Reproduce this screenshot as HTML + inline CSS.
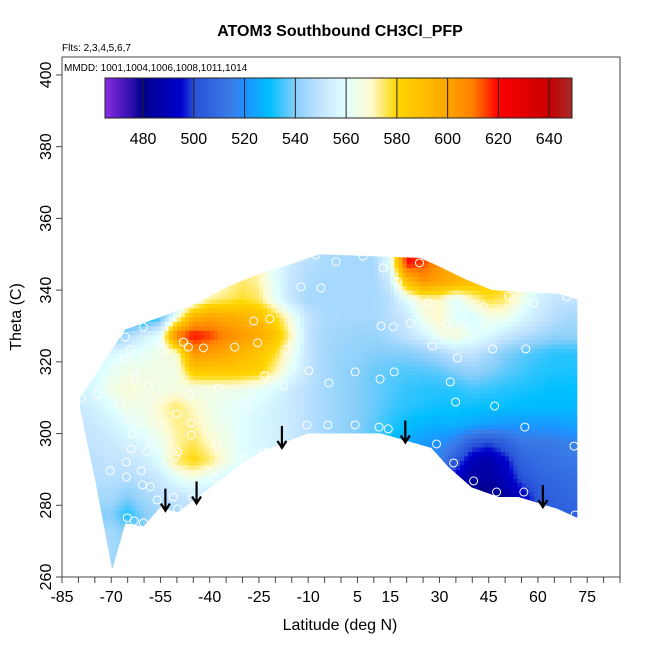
<!DOCTYPE html>
<html><head><meta charset="utf-8"><style>
body{margin:0;background:#fff;}
svg{display:block;font-family:"Liberation Sans",Arial,sans-serif;}
</style></head><body>
<svg id="chart" width="650" height="650" viewBox="0 0 650 650"></svg>
<script>
const lats=[-80,-75,-70,-65,-60,-55,-50,-45,-40,-35,-30,-25,-20,-15,-10,-5,0,5,10,15,20,25,30,35,40,45,50,55,60,65,70];
const thetas=[345,340,335,330,325,320,315,310,305,300,295,290,285,280,275,270,265];
const values=[
[550,550,550,550,550,550,550,550,560,565,570,570,560,552,548,546,545,545,545,560,620,615,605,595,585,580,575,570,565,560,555],
[550,550,550,550,550,550,550,560,565,570,575,572,560,550,546,545,545,545,545,552,590,605,600,595,590,585,580,570,560,555,552],
[535,535,535,530,530,535,548,560,572,575,578,575,562,550,545,545,545,545,545,548,560,570,570,560,570,578,575,565,555,550,550],
[530,530,530,525,525,535,565,595,600,598,595,590,580,565,550,546,545,545,545,548,552,565,570,560,558,565,565,558,552,548,545],
[540,540,535,545,555,560,612,620,616,608,603,598,588,570,550,545,544,543,543,545,550,555,565,568,562,558,552,548,545,542,542],
[552,555,558,560,562,565,568,605,602,598,593,588,578,565,550,545,543,542,540,540,540,542,545,550,550,545,540,537,535,533,533],
[555,558,562,565,565,565,565,585,586,586,585,582,572,560,550,545,542,540,538,537,536,536,537,540,542,540,537,535,533,532,532],
[555,558,565,568,566,565,566,565,565,565,564,562,558,552,548,545,542,540,538,536,534,533,533,533,535,534,533,532,531,530,530],
[552,555,560,565,565,570,575,570,565,562,560,558,555,552,548,545,542,540,538,535,533,532,531,531,531,530,530,529,529,529,529],
[550,552,555,560,563,568,573,573,566,563,560,557,555,552,548,545,542,540,537,533,530,528,527,527,525,523,522,522,522,522,524],
[548,550,552,555,558,563,572,576,570,565,560,557,555,552,548,545,542,540,535,530,525,522,520,514,503,500,505,512,513,514,516],
[548,548,550,550,553,560,575,580,575,566,560,557,555,552,548,545,542,538,533,528,522,518,515,503,490,487,494,506,509,511,513],
[548,548,548,547,548,552,560,565,560,556,555,552,550,548,545,542,540,535,530,525,520,515,510,492,485,485,490,501,506,508,510],
[545,545,545,540,545,548,550,552,552,552,552,550,548,545,542,540,538,533,528,522,518,512,505,485,475,478,484,492,502,506,508],
[540,540,540,532,540,545,545,548,550,550,550,548,545,542,540,538,535,530,525,520,515,508,500,482,470,475,480,490,500,505,505],
[545,545,545,540,540,545,545,548,550,550,550,548,545,542,540,538,535,530,525,520,515,508,500,485,475,478,485,495,500,505,505],
[545,545,545,540,540,545,545,548,550,550,550,548,545,542,540,538,535,530,525,520,515,508,500,485,480,480,485,495,500,505,505]];
const topLat=[-79.5,-65.7,-55,-45,-34.5,-24.5,-16,-6.5,7.6,24,29,38,46,66,72];
const topTh=[310,329,332.5,336,341,344.7,347,350,349.5,349,347,343,340,339,337.5];
const botLat=[72,66,54.1,48,39.8,32.7,27.5,12.2,-10.1,-24.4,-29.6,-39.7,-49.8,-55,-60.2,-65.7,-69.7,-74.9,-79.5];
const botTh=[276.5,279,282.3,282.3,285,290.7,296,300,300,295,292,285,278,279.5,274,275,262,287,307];
const ptLat=[-7.6,-1.5,-12.2,-6.1,-26.6,-21.7,-60.2,-65.7,-48,-55,-46.5,-41.9,-32.4,-25.4,-16.8,-64.2,-54.4,-66,-9.8,-23.2,-62.7,-62.7,-3.7,-58.7,-17.4,-74.3,-37.3,-46.2,-55.3,-59,-79.2,-67.3,-28.4,-57.5,-50.1,-64.8,-61.8,-45.6,-55.6,-10.4,-4,-63.6,-45.6,-57.8,-37.9,-63.9,-59,-23.8,-49.8,-50.4,-65.4,-29.3,-70.3,-60.8,-38.5,-65.4,-60.5,-58.1,-56,-51.1,-45.2,-49.8,-65.1,-63,-60.2,-66.3,6.7,12.9,23.9,17.1,26.6,43.4,51.1,58.7,68.8,12.2,15.9,21.1,32.4,37.6,27.8,46.2,56.3,35.5,4.3,11.9,16.2,33.3,34.9,46.8,4.3,11.6,14.4,56,29.1,71,34.3,40.4,47.4,55.7,71.3];
const ptTh=[349.8,347.9,340.9,340.6,331.4,332,329.7,326.9,325.5,325.3,324.1,323.9,324.1,325.3,323.3,323.3,323.6,320.8,317.5,316.1,316.3,315.2,314.1,313,313.3,311,312.7,310.8,309.6,309.6,309.9,308.5,307.4,307.1,305.5,304.3,303,303,302.4,302.4,302.4,299.9,299.6,297.7,296.8,295.7,295.1,294.9,294.9,293.7,292.1,292.9,289.6,289.6,287.6,287.9,285.7,285.1,281.5,282.3,282,279,276.5,275.6,275.1,266.7,349.5,346.2,347.6,342.3,336.4,335.3,338.4,336.4,338.1,330,329.7,330.8,330.6,331.1,324.4,323.6,323.6,321.1,317.2,315.2,317.2,314.4,308.8,307.7,302.4,301.8,301.3,301.8,297.1,296.5,291.8,286.8,283.7,283.7,277.3];
const arrowLat=[-53.5,-44,-18,19.6,61.5];
const arrowTh=[278.5,280.5,296,297.5,279.5];
const xTicks=[-85,-70,-55,-40,-25,-10,5,15,30,45,60,75];
const yTicks=[260,280,300,320,340,360,380,400];
const cbTicks=[480,500,520,540,560,580,600,620,640];
const cbStops=[[465,'#8a2be2'],[475,'#3010b0'],[480,'#00008b'],[495,'#0000cd'],[500,'#2850d8'],[515,'#3a7ee8'],[520,'#1e90ff'],[530,'#00bfff'],[540,'#87cefa'],[550,'#c4e4ff'],[560,'#e0ffff'],[570,'#fffacd'],[580,'#ffd700'],[600,'#ffa500'],[610,'#ff7f00'],[620,'#ff0000'],[640,'#c80000'],[649,'#a52a2a']];

const NS='http://www.w3.org/2000/svg';
const svg=document.getElementById('chart');
const X0=62,X1=620,Y0=57,Y1=577;
const xs=v=>X0+(v+85)*(X1-X0)/170;
const ys=v=>Y1-(v-260)*(Y1-Y0)/145;
function el(t,a,p){const e=document.createElementNS(NS,t);for(const k in a)e.setAttribute(k,a[k]);(p||svg).appendChild(e);return e;}
function hex(h){return [1,3,5].map(i=>parseInt(h.substr(i,2),16));}
function col(v){
  if(v<=cbStops[0][0])return cbStops[0][1];
  for(let i=1;i<cbStops.length;i++){if(v<=cbStops[i][0]){const a=cbStops[i-1],b=cbStops[i];const t=(v-a[0])/(b[0]-a[0]);const ca=hex(a[1]),cb=hex(b[1]);return 'rgb('+ca.map((c,j)=>Math.round(c+(cb[j]-c)*t)).join(',')+')';}}
  return cbStops[cbStops.length-1][1];
}
function valAt(lat,th){
  let fc=(lat-lats[0])/5; fc=Math.max(0,Math.min(lats.length-1,fc));
  let fr=(thetas[0]+2.5-th)/5; fr=Math.max(0,Math.min(thetas.length-1,fr));
  const c0=Math.floor(fc),r0=Math.floor(fr),c1=Math.min(c0+1,lats.length-1),r1=Math.min(r0+1,thetas.length-1);
  const tc=fc-c0,tr=fr-r0;
  const a=values[r0][c0]*(1-tc)+values[r0][c1]*tc;
  const b=values[r1][c0]*(1-tc)+values[r1][c1]*tc;
  return a*(1-tr)+b*tr;
}
const defs=el('defs',{});
const cp=el('clipPath',{id:'region'},defs);
let pts=topLat.map((l,i)=>xs(l)+','+ys(topTh[i])).concat(botLat.map((l,i)=>xs(l)+','+ys(botTh[i])));
el('polygon',{points:pts.join(' ')},cp);
const heat=el('g',{'clip-path':'url(#region)'});


const SL=1.25,ST=1.25;
for(let th=262.5;th<352.5;th+=ST){
  for(let l=-82.5;l<75;l+=SL){
    const x=xs(l),w=xs(l+SL)-x+0.4,y=ys(th+ST),h=ys(th)-y+0.4;
    const rc=el('rect',{x:x,y:y,width:w,height:h,fill:col(valAt(l+SL/2,th+ST/2))},heat);
    
    
  }
}
const pg=el('g',{});


ptLat.forEach((l,i)=>{
  const c=el('circle',{cx:xs(l),cy:ys(ptTh[i]),r:4,fill:'none',stroke:'#fff','stroke-width':1},pg);
  
  
});
arrowLat.forEach((l,i)=>{
  const g=el('g',{stroke:'#000','stroke-width':2.2,fill:'none'});
  
  
  const x=xs(l),y=ys(arrowTh[i]);
  el('line',{x1:x,y1:y-22,x2:x,y2:y},g);
  el('polyline',{points:(x-4.5)+','+(y-7)+' '+x+','+y+' '+(x+4.5)+','+(y-7)},g);
});
const box=el('rect',{x:X0,y:Y0,width:X1-X0,height:Y1-Y0,fill:'none',stroke:'#444','stroke-width':1});


for(let v=-85;v<=85;v+=5){el('line',{x1:xs(v),y1:Y1,x2:xs(v),y2:Y1+6,stroke:'#444'});}
xTicks.forEach(v=>{const t=el('text',{x:xs(v),y:602,'font-size':16,'text-anchor':'middle',fill:'#000'});t.textContent=v;
});
yTicks.forEach(v=>{el('line',{x1:X0-6,y1:ys(v),x2:X0,y2:ys(v),stroke:'#444'});
const t=el('text',{x:0,y:0,'font-size':16,'text-anchor':'middle',fill:'#000',transform:'translate(51,'+ys(v)+') rotate(-90)'});t.textContent=v;
});
const CB0=105,CB1=572,cbMin=465,cbMax=649;
const cbx=v=>CB0+(v-cbMin)*(CB1-CB0)/(cbMax-cbMin);
const grad=el('linearGradient',{id:'cbg',x1:0,x2:1,y1:0,y2:0},defs);
cbStops.forEach(s=>el('stop',{offset:(s[0]-cbMin)/(cbMax-cbMin),'stop-color':s[1]},grad));
const cb=el('rect',{x:CB0,y:78,width:CB1-CB0,height:40,fill:'url(#cbg)',stroke:'#222'});


cbTicks.forEach(v=>{el('line',{x1:cbx(v),y1:78,x2:cbx(v),y2:118,stroke:'#222'});
const t=el('text',{x:cbx(v),y:144,'font-size':16,'text-anchor':'middle',fill:'#000'});t.textContent=v;
});
</script>
<svg style="position:absolute;left:0;top:0" width="650" height="650">
<text x="340" y="36" font-size="16" font-weight="bold" text-anchor="middle" font-family="Liberation Sans, sans-serif">ATOM3 Southbound CH3Cl_PFP</text>
<text x="62" y="51" font-size="10" font-family="Liberation Sans, sans-serif">Flts: 2,3,4,5,6,7</text>
<text x="64" y="71" font-size="10" font-family="Liberation Sans, sans-serif">MMDD: 1001,1004,1006,1008,1011,1014</text>
<text x="340" y="630" font-size="16" text-anchor="middle" font-family="Liberation Sans, sans-serif">Latitude (deg N)</text>
<text x="0" y="0" font-size="16" text-anchor="middle" transform="translate(21,317) rotate(-90)" font-family="Liberation Sans, sans-serif">Theta (C)</text>
</svg>
</body></html>
